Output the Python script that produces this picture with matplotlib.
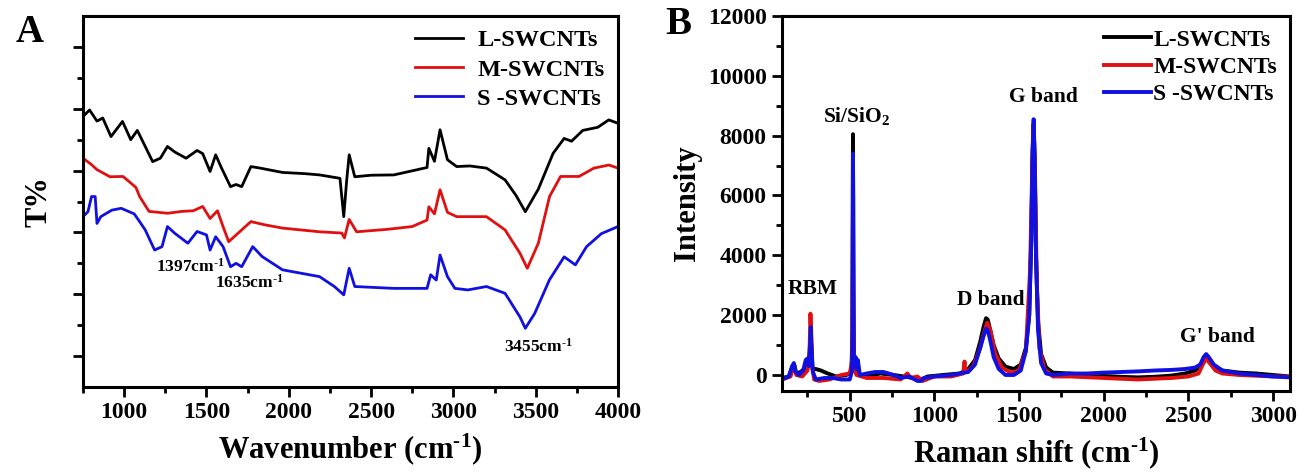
import numpy as np
import matplotlib
matplotlib.use("Agg")
from matplotlib import pyplot as plt
from matplotlib.ticker import MultipleLocator, FixedLocator

plt.rcParams['font.family'] = ['Liberation Serif', 'DejaVu Serif']
plt.rcParams['font.weight'] = 'bold'
plt.rcParams['axes.labelweight'] = 'bold'
plt.rcParams['mathtext.fontset'] = 'custom'
plt.rcParams['mathtext.rm'] = 'Liberation Serif:bold'
plt.rcParams['mathtext.default'] = 'rm'

series = ['L-SWCNTs', 'M-SWCNTs', 'S -SWCNTs']
colors = ['black', '#e01010', '#1010e0']

# ---- FTIR (panel A), wavenumber vs T% (arbitrary offset units)
ftir_l = [(750, 8.75), (790, 8.96), (835, 8.6), (870, 8.7), (920, 8.10), (990, 8.59), (1040, 8.0),
          (1080, 8.3), (1117, 7.9), (1173, 7.29), (1220, 7.4), (1263, 7.78), (1308, 7.6), (1376, 7.4),
          (1443, 7.65), (1477, 7.55), (1522, 6.97), (1556, 7.51), (1590, 7.1), (1646, 6.48), (1680, 6.55),
          (1714, 6.48), (1770, 7.13), (1826, 7.08), (1962, 6.94), (2100, 6.9), (2187, 6.86), (2311, 6.75),
          (2334, 5.51), (2352, 6.7), (2367, 7.51), (2401, 6.8), (2500, 6.85), (2638, 6.86), (2773, 7.02),
          (2840, 7.1), (2851, 7.72), (2885, 7.3), (2919, 8.32), (2964, 7.35), (3020, 7.13), (3100, 7.15),
          (3201, 7.08), (3314, 6.70), (3380, 6.2), (3437, 5.67), (3516, 6.4), (3606, 7.56), (3673, 8.04),
          (3718, 7.95), (3786, 8.3), (3877, 8.4), (3944, 8.64), (4000, 8.53)]
ftir_m = [(750, 7.40), (800, 7.2), (835, 7.03), (914, 6.8), (993, 6.81), (1040, 6.6), (1072, 6.45),
          (1094, 6.16), (1151, 5.68), (1263, 5.62), (1353, 5.68), (1420, 5.7), (1477, 5.84), (1522, 5.45),
          (1567, 5.7), (1600, 5.2), (1635, 4.70), (1691, 4.97), (1770, 5.35), (1850, 5.25), (1962, 5.14),
          (2187, 5.02), (2322, 4.98), (2338, 4.82), (2367, 5.42), (2412, 5.02), (2600, 5.1), (2750, 5.19),
          (2840, 5.4), (2851, 5.83), (2885, 5.6), (2919, 6.38), (2964, 5.65), (3020, 5.51), (3201, 5.51),
          (3314, 5.08), (3404, 4.33), (3449, 3.84), (3516, 4.65), (3584, 6.16), (3651, 6.81), (3763, 6.81),
          (3854, 7.08), (3944, 7.18), (4000, 7.08)]
ftir_s = [(750, 5.51), (780, 5.67), (802, 6.16), (824, 6.16), (835, 5.29), (858, 5.51), (925, 5.72),
          (982, 5.78), (1061, 5.6), (1094, 5.35), (1128, 5.08), (1185, 4.43), (1230, 4.54), (1263, 5.19),
          (1308, 4.97), (1387, 4.65), (1443, 5.03), (1500, 4.92), (1522, 4.43), (1556, 4.86), (1601, 4.54),
          (1646, 3.89), (1680, 4.0), (1714, 3.89), (1781, 4.54), (1838, 4.22), (1962, 3.79), (2074, 3.68),
          (2187, 3.57), (2277, 3.25), (2334, 2.98), (2367, 3.84), (2401, 3.25), (2638, 3.19), (2840, 3.19),
          (2862, 3.63), (2896, 3.46), (2919, 4.27), (2964, 3.57), (3009, 3.19), (3088, 3.14), (3201, 3.25),
          (3314, 3.03), (3404, 2.27), (3437, 1.90), (3494, 2.38), (3584, 3.47), (3673, 4.21), (3741, 3.95),
          (3809, 4.54), (3899, 4.96), (4000, 5.19)]

# ---- Raman (panel B), shift vs intensity
raman_l = [(100, -100), (140, -50), (160, 250), (172, 350), (185, 50), (210, 100), (240, 250), (255, 300),
           (262, 700), (268, 1300), (274, 900), (280, 200), (300, 200), (330, 150), (370, 50), (420, -50),
           (480, 0), (510, 100), (516, 1500), (519, 8050), (521, 3000), (524, 400), (530, 200), (540, 100),
           (560, 0), (600, -50), (680, 50), (760, 0), (820, -50), (880, -100), (920, -150), (960, -50),
           (1050, 0), (1150, 50), (1200, 200), (1240, 500), (1270, 1100), (1290, 1600), (1305, 1900),
           (1315, 1850), (1330, 1500), (1350, 1000), (1380, 550), (1420, 280), (1470, 200), (1510, 350),
           (1540, 900), (1560, 2000), (1572, 4500), (1580, 7500), (1586, 8400), (1592, 7200), (1600, 4000),
           (1612, 1800), (1630, 700), (1660, 250), (1700, 80), (1800, 50), (1900, 0), (2000, -30),
           (2100, -60), (2200, -80), (2300, -60), (2400, -20), (2480, 50), (2540, 150), (2570, 300),
           (2590, 550), (2605, 650), (2620, 550), (2650, 300), (2700, 150), (2800, 80), (2900, 50),
           (3000, 0), (3100, -50)]
raman_m = [(100, -150), (150, -50), (170, 300), (185, 0), (220, -50), (250, 150), (262, 600), (268, 2050),
           (272, 1500), (278, 300), (290, -150), (320, -200), (380, -150), (450, 0), (500, 50), (515, 500),
           (519, 5500), (522, 2000), (526, 200), (540, 0), (600, -100), (700, -100), (800, -150), (840, 50),
           (860, -100), (900, -50), (930, -200), (1000, -50), (1100, -50), (1170, 50), (1178, 450),
           (1182, 150), (1190, 100), (1230, 300), (1270, 900), (1295, 1450), (1312, 1750), (1330, 1500),
           (1360, 700), (1400, 250), (1450, 80), (1500, 150), (1540, 800), (1565, 3500), (1578, 7000),
           (1586, 8300), (1594, 6800), (1605, 3000), (1620, 900), (1650, 200), (1700, -50), (1800, -50),
           (2000, -100), (2200, -150), (2400, -100), (2500, -50), (2560, 50), (2585, 350), (2605, 550),
           (2625, 400), (2660, 150), (2700, 50), (2800, 0), (3000, -50), (3100, -50)]
raman_s = [(100, -150), (140, -50), (160, 300), (170, 400), (180, 100), (200, 0), (225, 150), (240, 500),
           (250, 550), (258, 300), (265, 800), (270, 1600), (275, 900), (282, 100), (300, -150), (350, -100),
           (400, -100), (450, -150), (500, -150), (512, 100), (516, 700), (519, 7400), (521, 6000),
           (524, 600), (528, 300), (535, 600), (540, 200), (548, 500), (560, 0), (600, 50), (650, 100),
           (700, 100), (760, 0), (800, -100), (850, -50), (900, -200), (920, -200), (940, -100), (1000, -50),
           (1100, 0), (1200, 100), (1240, 350), (1270, 900), (1290, 1300), (1305, 1550), (1315, 1500),
           (1330, 1150), (1350, 600), (1380, 200), (1420, 0), (1470, 0), (1510, 150), (1540, 800),
           (1560, 2000), (1572, 4500), (1580, 7500), (1586, 8550), (1592, 7300), (1600, 4000), (1612, 1500),
           (1630, 400), (1660, 50), (1700, 0), (1800, 50), (1900, 50), (2000, 80), (2100, 100), (2200, 120),
           (2300, 150), (2400, 170), (2480, 200), (2540, 250), (2570, 350), (2590, 600), (2605, 700),
           (2620, 600), (2650, 350), (2700, 150), (2800, 50), (2900, 0), (3000, -50), (3100, -80)]

ftir_xticks = [1000, 1500, 2000, 2500, 3000, 3500, 4000]
raman_xticks = [500, 1000, 1500, 2000, 2500, 3000]
raman_yticks = [0, 2000, 4000, 6000, 8000, 10000, 12000]

ftir_notes = [('1397cm$^{\u2010 1}$', 1400, 3.90), ('1635cm$^{\u2010 1}$', 1758, 3.37),
              ('3455cm$^{\u2010 1}$', 3514, 1.30)]
raman_notes = [('RBM', 283, 2870), ('Si/SiO$_2$', 540, 8650), ('D band', 1334, 2500),
               ('G band', 1642, 9290), ("G' band", 2669, 1270)]

W, H = 1299, 475
fig = plt.figure(figsize=(W / 100, H / 100), dpi=100)


def rect(x0, y0, x1, y1):
    return [x0 / W, 1 - y1 / H, (x1 - x0) / W, (y1 - y0) / H]


def style(ax):
    for s in ax.spines.values():
        s.set_linewidth(2.2)
    ax.tick_params(which='major', direction='out', length=7, width=2, labelsize=17, pad=4)
    ax.tick_params(which='minor', direction='out', length=4, width=2)


axA = fig.add_axes(rect(83, 16, 618, 387))
for data, c, lab in zip([ftir_l, ftir_m, ftir_s], colors, series):
    x, y = np.array(data).T
    axA.plot(x, y, color=c, lw=2, label=lab)
axA.set_xlim(750, 4000)
axA.set_ylim(0, 12)
axA.set_xticks(ftir_xticks, [str(t) for t in ftir_xticks], fontweight='bold')
axA.xaxis.set_minor_locator(MultipleLocator(250))
axA.yaxis.set_major_locator(FixedLocator([1, 3, 5, 7, 9, 11]))
axA.yaxis.set_minor_locator(FixedLocator([2, 4, 6, 8, 10]))
axA.set_yticklabels([])
style(axA)
axA.set_xlabel('Wavenumber (cm$^{\u2010 1}$)', fontsize=22, fontweight='bold', labelpad=6)
axA.set_ylabel('T%', fontsize=22, fontweight='bold', labelpad=10)
for txt, xx, yy in ftir_notes:
    axA.text(xx, yy, txt, fontsize=12.5, fontweight='bold', ha='center', va='center')
axA.legend(loc='upper right', frameon=False, prop={'size': 17.5, 'weight': 'bold'}, handlelength=1.95,
           borderaxespad=0.15, labelspacing=0.3, handletextpad=0.6)

axB = fig.add_axes(rect(782, 16, 1290, 391))
for data, c, lab in zip([raman_l, raman_m, raman_s], colors, series):
    x, y = np.array(data).T
    axB.plot(x, y, color=c, lw=2.8, label=lab)
axB.set_xlim(100, 3100)
axB.set_ylim(-535, 12000)
axB.set_xticks(raman_xticks, [str(t) for t in raman_xticks], fontweight='bold')
axB.set_yticks(raman_yticks, [str(t) for t in raman_yticks], fontweight='bold')
axB.xaxis.set_minor_locator(MultipleLocator(250))
axB.yaxis.set_minor_locator(MultipleLocator(1000))
style(axB)
axB.set_xlabel('Raman shift (cm$^{\u2010 1}$)', fontsize=22, fontweight='bold', labelpad=6)
axB.set_ylabel('Intensity', fontsize=22, fontweight='bold', labelpad=4)
for txt, xx, yy in raman_notes:
    axB.text(xx, yy, txt, fontsize=15.5, fontweight='bold', ha='center', va='center')
axB.legend(loc='upper right', frameon=False, prop={'size': 17, 'weight': 'bold'}, handlelength=2.0,
           borderaxespad=0.15, labelspacing=0.25, handletextpad=0.1)

fig.text(30 / W, 1 - 32 / H, 'A', fontsize=28, fontweight='bold', ha='center', va='center')
fig.text(678 / W, 1 - 24 / H, 'B', fontsize=28, fontweight='bold', ha='center', va='center')

fig.savefig('out.png', dpi=100)
